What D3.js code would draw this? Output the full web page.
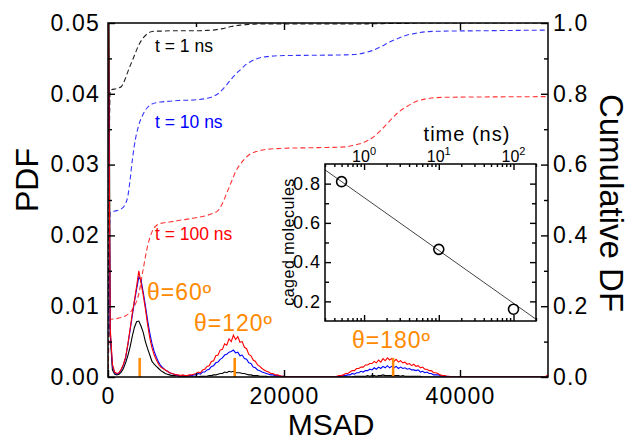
<!DOCTYPE html>
<html>
<head>
<meta charset="utf-8">
<script src="https://d3js.org/d3.v7.min.js"></script>
<style>
  body { margin: 0; background: #fff; }
  svg text { font-family: "Liberation Sans", Arial, Helvetica, sans-serif; }
</style>
</head>
<body>
<div id="chart"></div>
<script>
// MSAD histograms (PDF) for three times, plus cumulative DF, and an inset of caged fraction vs time

// histogram bins are 250 wide, from 0 to 50000; values below are PDF x 1e-4
var binWidth = 250;
// each row = 10 bins = 2500 of MSAD
var pdf1ns = [
  900, 60, 10, 4, 3, 4, 7, 12, 20, 30,
  42, 57, 70, 78, 79, 72, 63, 50, 40, 31,
  22, 18, 15, 12, 9, 7, 5, 4, 3, 2,
  2, 2, 1, 1, 1, 1, 0, 0, 0, 0,
  0, 0, 1, 1, 1, 1, 2, 2, 3, 3,
  4, 5, 5, 7, 6, 8, 7, 8, 6, 6,
  6, 5, 5, 4, 3, 3, 2, 2, 2, 1,
  1, 1, 1, 0, 0, 0, 0, 0, 0, 0,
  0, 0, 0, 0, 0, 0, 0, 0, 0, 0,
  0, 0, 0, 0, 0, 0, 0, 0, 0, 0,
  0, 0, 0, 0, 0, 0, 0, 0, 0, 0,
  0, 0, 1, 1, 1, 1, 1, 1, 2, 1,
  2, 2, 1, 2, 2, 3, 2, 2, 2, 2,
  2, 2, 2, 1, 2, 1, 1, 1, 1, 1,
  1, 1, 1, 0, 0, 0, 0, 0, 0, 0,
  0, 0, 0, 0, 0, 0, 0, 0, 0, 0,
  0, 0, 0, 0, 0, 0, 0, 0, 0, 0,
  0, 0, 0, 0, 0, 0, 0, 0, 0, 0,
  0, 0, 0, 0, 0, 0, 0, 0, 0, 0,
  0, 0, 0, 0, 0, 0, 0, 0, 0, 0,
  0
];
var pdf10ns = [
  550, 65, 16, 6, 4, 6, 10, 17, 27, 45,
  65, 86, 106, 124, 141, 137, 120, 101, 80, 62,
  47, 36, 28, 21, 16, 13, 10, 8, 6, 5,
  4, 3, 2, 2, 2, 2, 1, 2, 2, 3,
  3, 5, 4, 7, 7, 10, 11, 15, 16, 20,
  21, 25, 27, 31, 32, 35, 36, 38, 34, 35,
  30, 31, 26, 25, 20, 19, 14, 13, 10, 9,
  7, 6, 5, 4, 3, 3, 2, 2, 1, 1,
  1, 0, 0, 0, 0, 0, 0, 0, 0, 0,
  0, 0, 0, 0, 0, 0, 0, 0, 0, 0,
  0, 0, 0, 0, 0, 1, 1, 2, 2, 3,
  3, 5, 4, 6, 6, 8, 7, 9, 9, 11,
  10, 13, 11, 14, 12, 15, 13, 16, 13, 15,
  13, 15, 12, 14, 12, 13, 11, 12, 10, 10,
  9, 10, 7, 8, 6, 7, 5, 5, 3, 3,
  3, 2, 1, 1, 1, 0, 0, 0, 0, 0,
  0, 0, 0, 0, 0, 0, 0, 0, 0, 0,
  0, 0, 0, 0, 0, 0, 0, 0, 0, 0,
  0, 0, 0, 0, 0, 0, 0, 0, 0, 0,
  0, 0, 0, 0, 0, 0, 0, 0, 0, 0,
  0
];
var pdf100ns = [
  600, 70, 18, 7, 5, 6, 11, 18, 28, 46,
  67, 89, 108, 128, 150, 133, 116, 96, 74, 55,
  41, 31, 24, 18, 14, 12, 10, 8, 6, 5,
  4, 3, 3, 2, 3, 2, 2, 3, 3, 4,
  5, 7, 6, 10, 11, 15, 16, 22, 23, 30,
  31, 38, 39, 47, 45, 54, 50, 59, 53, 57,
  49, 50, 42, 40, 32, 30, 24, 22, 17, 15,
  12, 10, 8, 7, 5, 5, 3, 3, 2, 1,
  1, 0, 0, 0, 0, 0, 0, 0, 0, 0,
  0, 0, 0, 0, 0, 0, 0, 0, 0, 0,
  0, 0, 0, 0, 1, 2, 2, 3, 5, 5,
  7, 9, 9, 12, 12, 14, 14, 17, 17, 19,
  19, 22, 20, 24, 21, 26, 23, 27, 24, 26,
  22, 25, 21, 23, 20, 21, 18, 19, 16, 18,
  15, 16, 13, 14, 11, 11, 9, 9, 6, 6,
  5, 3, 2, 2, 1, 1, 0, 0, 0, 0,
  0, 0, 0, 0, 0, 0, 0, 0, 0, 0,
  0, 0, 0, 0, 0, 0, 0, 0, 0, 0,
  0, 0, 0, 0, 0, 0, 0, 0, 0, 0,
  0, 0, 0, 0, 0, 0, 0, 0, 0, 1,
  3
];

// cumulative DF (right axis), read at these MSAD values
var cdfMsad = [0, 250, 1000, 1500, 1750, 2000, 2250, 2500, 2750, 3000,
  3500, 4000, 4500, 5000, 5500, 6000, 7000, 8000, 10000, 11000,
  12000, 12500, 13000, 13500, 14000, 14500, 15000, 15500, 16000, 17000,
  18000, 20000, 24000, 27000, 28000, 29000, 30000, 31000, 32000, 33000,
  34000, 35000, 36000, 38000, 42000, 50000];
var cdf1ns = [0, 0.81, 0.815, 0.82, 0.83, 0.845, 0.862, 0.878, 0.893, 0.908,
  0.938, 0.958, 0.97, 0.976, 0.977, 0.977, 0.978, 0.978, 0.978, 0.979,
  0.98, 0.982, 0.984, 0.987, 0.99, 0.992, 0.994, 0.995, 0.996, 0.997,
  0.997, 0.997, 0.997, 0.997, 0.997, 0.997, 0.998, 0.998, 0.999, 0.999,
  0.999, 1.0, 1.0, 1.0, 1.0, 1.0];
var cdf10ns = [0, 0.465, 0.47, 0.475, 0.48, 0.49, 0.51, 0.555, 0.61, 0.655,
  0.712, 0.743, 0.762, 0.771, 0.775, 0.777, 0.779, 0.781, 0.783, 0.786,
  0.793, 0.8, 0.812, 0.826, 0.841, 0.855, 0.867, 0.879, 0.888, 0.9,
  0.905, 0.908, 0.909, 0.91, 0.911, 0.915, 0.922, 0.933, 0.946, 0.957,
  0.966, 0.971, 0.975, 0.977, 0.978, 0.98];
var cdf100ns = [0, 0.163, 0.165, 0.168, 0.17, 0.173, 0.177, 0.182, 0.19, 0.2,
  0.235, 0.305, 0.37, 0.41, 0.428, 0.434, 0.438, 0.442, 0.45, 0.455,
  0.463, 0.47, 0.49, 0.52, 0.55, 0.58, 0.6, 0.615, 0.627, 0.638,
  0.643, 0.646, 0.648, 0.65, 0.655, 0.662, 0.675, 0.697, 0.723, 0.748,
  0.765, 0.778, 0.785, 0.79, 0.791, 0.792];

// angle markers
var thetaLabels = ["\u03b8=60\u00ba", "\u03b8=120\u00ba", "\u03b8=180\u00ba"];
var thetaMsad = [3600, 14400, 32400];

// inset: caged molecules vs time
var cageTime = [0.5, 10, 100];
var cageFrac = [0.81, 0.465, 0.16];
var fitTime = [0.3, 200];
var fitFrac = [0.87, 0.109];

// tick labels
var pdfTicks = [0, 0.01, 0.02, 0.03, 0.04, 0.05];
var cdfTicks = [0, 0.2, 0.4, 0.6, 0.8, 1.0];
var msadTicks = [0, 20000, 40000];

var fontFam = '"Liberation Sans", Arial, Helvetica, sans-serif';

//layout
var svgWidth = 631;
var svgHeight = 441;
var plot = {left: 108, right: 548, top: 23, bottom: 377};
var ins = {left: 325, right: 536, top: 164, bottom: 321};

var svg = d3.select("#chart")
  .append("svg")
  .attr("width", svgWidth)
  .attr("height", svgHeight)
  .style("font-family", fontFam);

var x = d3.scaleLinear().domain([0, 50000]).range([plot.left, plot.right]);
var yPdf = d3.scaleLinear().domain([0, 0.05]).range([plot.bottom, plot.top]);
var yCdf = d3.scaleLinear().domain([0, 1]).range([plot.bottom, plot.top]);

svg.append("clipPath").attr("id", "plotClip")
  .append("rect")
  .attr("x", plot.left).attr("y", plot.top)
  .attr("width", plot.right - plot.left).attr("height", plot.bottom - plot.top);

var curves = svg.append("g").attr("clip-path", "url(#plotClip)");

// cumulative curves (dashed)
var cdfLine = d3.line()
  .x((d, i) => x(cdfMsad[i]))
  .y(d => yCdf(d))
  .curve(d3.curveMonotoneX);

[[cdf1ns, "#222"], [cdf10ns, "#3535ff"], [cdf100ns, "#ff3535"]].forEach(function(s) {
  curves.append("path")
    .datum(s[0])
    .attr("d", cdfLine)
    .attr("fill", "none")
    .attr("stroke", s[1])
    .attr("stroke-width", 1.1)
    .attr("stroke-dasharray", "5,3");
});

// pdf histograms (solid)
var pdfLine = d3.line()
  .x((d, i) => x(i * binWidth))
  .y(d => yPdf(d * 1e-4));

[[pdf1ns, "#000"], [pdf10ns, "#0000ff"], [pdf100ns, "#ff0000"]].forEach(function(s) {
  curves.append("path")
    .datum(s[0])
    .attr("d", pdfLine)
    .attr("fill", "none")
    .attr("stroke", s[1])
    .attr("stroke-width", 1.1);
});

// orange angle markers
var orange = "#ff8a00";
svg.selectAll(".thetaTick")
  .data(thetaMsad)
  .enter()
  .append("line")
  .attr("x1", d => x(d)).attr("x2", d => x(d))
  .attr("y1", yPdf(0)).attr("y2", yPdf(0.0027))
  .attr("stroke", orange)
  .attr("stroke-width", 2.5);

var thetaPos = [[147, 300], [194, 331], [352, 348]];
svg.selectAll(".thetaText")
  .data(thetaLabels)
  .enter()
  .append("text")
  .attr("x", (d, i) => thetaPos[i][0])
  .attr("y", (d, i) => thetaPos[i][1])
  .attr("fill", orange)
  .style("font-family", fontFam)
  .style("font-size", "23px")
  .style("letter-spacing", "1px")
  .text(d => d);

// curve labels
var curveLabels = [["t = 1 ns", "#000", 52], ["t = 10 ns", "#0000ff", 128], ["t = 100 ns", "#ff0000", 240]];
curveLabels.forEach(function(l) {
  svg.append("text")
    .attr("x", 155).attr("y", l[2])
    .attr("fill", l[1])
    .style("font-family", fontFam)
    .style("font-size", "17.5px")
    .text(l[0]);
});

// axes
function styleAxis(g, fontSize, spacing) {
  g.select(".domain").remove();
  g.selectAll("line").attr("stroke", "#000").attr("stroke-width", 1.4);
  g.selectAll("text").attr("fill", "#000")
    .style("font-size", fontSize)
    .style("letter-spacing", spacing)
    .style("font-family", fontFam);
}

var leftAxis = svg.append("g").attr("transform", `translate(${plot.left},0)`)
  .call(d3.axisLeft(yPdf).tickValues(pdfTicks).tickFormat(d3.format(".2f")).tickSize(-7).tickPadding(8));
styleAxis(leftAxis, "23px", "1.2px");
var leftMinor = svg.append("g").attr("transform", `translate(${plot.left},0)`)
  .call(d3.axisLeft(yPdf).tickValues([0.005, 0.015, 0.025, 0.035, 0.045]).tickFormat("").tickSize(-4));
styleAxis(leftMinor, "0px", "0px");

var rightAxis = svg.append("g").attr("transform", `translate(${plot.right},0)`)
  .call(d3.axisRight(yCdf).tickValues(cdfTicks).tickFormat(d3.format(".1f")).tickSize(-7).tickPadding(5));
styleAxis(rightAxis, "23px", "1.2px");
var rightMinor = svg.append("g").attr("transform", `translate(${plot.right},0)`)
  .call(d3.axisRight(yCdf).tickValues([0.1, 0.3, 0.5, 0.7, 0.9]).tickFormat("").tickSize(-4));
styleAxis(rightMinor, "0px", "0px");

var bottomAxis = svg.append("g").attr("transform", `translate(0,${plot.bottom})`)
  .call(d3.axisBottom(x).tickValues(msadTicks).tickFormat(d3.format("d")).tickSize(-7).tickPadding(11));
styleAxis(bottomAxis, "23px", "1.2px");
var bottomMinor = svg.append("g").attr("transform", `translate(0,${plot.bottom})`)
  .call(d3.axisBottom(x).tickValues([10000, 30000]).tickFormat("").tickSize(-4));
styleAxis(bottomMinor, "0px", "0px");

var topAxis = svg.append("g").attr("transform", `translate(0,${plot.top})`)
  .call(d3.axisTop(x).tickValues([20000, 40000]).tickFormat("").tickSize(-7));
styleAxis(topAxis, "0px", "0px");
var topMinor = svg.append("g").attr("transform", `translate(0,${plot.top})`)
  .call(d3.axisTop(x).tickValues([10000, 30000]).tickFormat("").tickSize(-4));
styleAxis(topMinor, "0px", "0px");

svg.append("rect")
  .attr("x", plot.left).attr("y", plot.top)
  .attr("width", plot.right - plot.left).attr("height", plot.bottom - plot.top)
  .attr("fill", "none").attr("stroke", "#000").attr("stroke-width", 1.5);

// axis titles
svg.append("text")
  .attr("transform", "translate(38,180) rotate(-90)")
  .attr("text-anchor", "middle")
  .style("font-family", fontFam)
  .style("font-size", "32px")
  .text("PDF");

svg.append("text")
  .attr("transform", "translate(600,203) rotate(90)")
  .attr("text-anchor", "middle")
  .style("font-family", fontFam)
  .style("font-size", "33px")
  .text("Cumulative DF");

svg.append("text")
  .attr("x", 331).attr("y", 435)
  .attr("text-anchor", "middle")
  .style("font-family", fontFam)
  .style("font-size", "30px")
  .text("MSAD");

// ---- inset ----
var xT = d3.scaleLog().domain([0.3, 200]).range([ins.left, ins.right]);
var yC = d3.scaleLinear().domain([0.1, 0.9]).range([ins.bottom, ins.top]);

svg.append("rect")
  .attr("x", ins.left).attr("y", ins.top)
  .attr("width", ins.right - ins.left).attr("height", ins.bottom - ins.top)
  .attr("fill", "#fff");

svg.append("clipPath").attr("id", "insetClip")
  .append("rect")
  .attr("x", ins.left).attr("y", ins.top)
  .attr("width", ins.right - ins.left).attr("height", ins.bottom - ins.top);

svg.append("path")
  .datum(fitTime)
  .attr("clip-path", "url(#insetClip)")
  .attr("d", d3.line().x(d => xT(d)).y((d, i) => yC(fitFrac[i])))
  .attr("fill", "none")
  .attr("stroke", "#444")
  .attr("stroke-width", 1);

svg.selectAll(".cage")
  .data(cageTime)
  .enter()
  .append("circle")
  .attr("cx", d => xT(d))
  .attr("cy", (d, i) => yC(cageFrac[i]))
  .attr("r", 5)
  .attr("fill", "none")
  .attr("stroke", "#000")
  .attr("stroke-width", 1.6);

var logTicks = xT.ticks();
var majorT = logTicks.filter(d => Math.abs(Math.log10(d) - Math.round(Math.log10(d))) < 1e-6);
var minorT = logTicks.filter(d => majorT.indexOf(d) < 0);

var inBottom = svg.append("g").attr("transform", `translate(0,${ins.bottom})`)
  .call(d3.axisBottom(xT).tickValues(majorT).tickFormat("").tickSize(-6));
styleAxis(inBottom, "0px", "0px");
var inBottomMinor = svg.append("g").attr("transform", `translate(0,${ins.bottom})`)
  .call(d3.axisBottom(xT).tickValues(minorT).tickFormat("").tickSize(-3));
styleAxis(inBottomMinor, "0px", "0px");
var inTop = svg.append("g").attr("transform", `translate(0,${ins.top})`)
  .call(d3.axisTop(xT).tickValues(majorT).tickFormat("").tickSize(-6));
styleAxis(inTop, "0px", "0px");
var inTopMinor = svg.append("g").attr("transform", `translate(0,${ins.top})`)
  .call(d3.axisTop(xT).tickValues(minorT).tickFormat("").tickSize(-3));
styleAxis(inTopMinor, "0px", "0px");

// 10^n labels on the inset top
var expLabels = svg.selectAll(".expLabel")
  .data(majorT)
  .enter()
  .append("text")
  .attr("x", d => xT(d))
  .attr("y", 161.5)
  .attr("text-anchor", "middle")
  .style("font-family", fontFam)
  .style("font-size", "16px");
expLabels.append("tspan").text("10");
expLabels.append("tspan")
  .attr("dy", -7)
  .style("font-size", "11px")
  .text(d => Math.round(Math.log10(d)));

var inLeft = svg.append("g").attr("transform", `translate(${ins.left},0)`)
  .call(d3.axisLeft(yC).tickValues([0.2, 0.4, 0.6, 0.8]).tickFormat(d3.format(".1f")).tickSize(-6).tickPadding(4));
styleAxis(inLeft, "18px", "1px");
var inLeftMinor = svg.append("g").attr("transform", `translate(${ins.left},0)`)
  .call(d3.axisLeft(yC).tickValues([0.3, 0.5, 0.7]).tickFormat("").tickSize(-4));
styleAxis(inLeftMinor, "0px", "0px");
var inRight = svg.append("g").attr("transform", `translate(${ins.right},0)`)
  .call(d3.axisRight(yC).tickValues([0.2, 0.4, 0.6, 0.8]).tickFormat("").tickSize(-6));
styleAxis(inRight, "0px", "0px");
var inRightMinor = svg.append("g").attr("transform", `translate(${ins.right},0)`)
  .call(d3.axisRight(yC).tickValues([0.3, 0.5, 0.7]).tickFormat("").tickSize(-4));
styleAxis(inRightMinor, "0px", "0px");

svg.append("rect")
  .attr("x", ins.left).attr("y", ins.top)
  .attr("width", ins.right - ins.left).attr("height", ins.bottom - ins.top)
  .attr("fill", "none").attr("stroke", "#000").attr("stroke-width", 1.5);

svg.append("text")
  .attr("x", 467).attr("y", 141)
  .attr("text-anchor", "middle")
  .style("font-family", fontFam)
  .style("font-size", "20px")
  .style("letter-spacing", "1px")
  .text("time (ns)");

svg.append("text")
  .attr("transform", "translate(294,242) rotate(-90)")
  .attr("text-anchor", "middle")
  .style("font-family", fontFam)
  .style("font-size", "16px")
  .style("letter-spacing", "0.5px")
  .text("caged molecules");
</script>
</body>
</html>
